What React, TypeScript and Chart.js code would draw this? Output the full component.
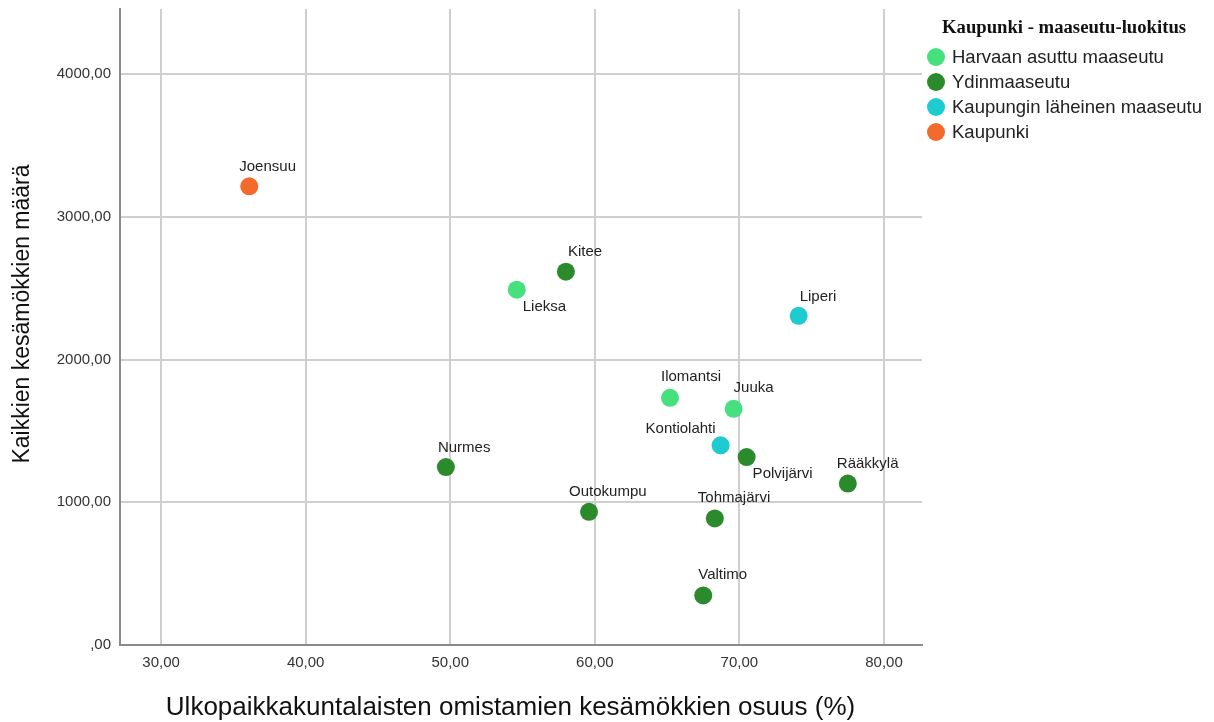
import React, { useEffect, useRef } from "react";
import { Chart, registerables } from "chart.js";

Chart.register(...registerables);

// ---- Data ----
const municipalities = [
  "Joensuu", "Kitee", "Lieksa", "Liperi", "Ilomantsi", "Juuka", "Kontiolahti",
  "Polvijärvi", "Rääkkylä", "Nurmes", "Outokumpu", "Tohmajärvi", "Valtimo",
];
const shareOutsideOwners = [36.1, 58.0, 54.6, 74.1, 65.2, 69.6, 68.7, 70.5, 77.5, 49.7, 59.6, 68.3, 67.5];
const totalCottages = [3214, 2616, 2490, 2307, 1732, 1655, 1399, 1317, 1131, 1247, 933, 887, 347];
const municipalityClass = [
  "Kaupunki", "Ydinmaaseutu", "Harvaan asuttu maaseutu", "Kaupungin läheinen maaseutu",
  "Harvaan asuttu maaseutu", "Harvaan asuttu maaseutu", "Kaupungin läheinen maaseutu",
  "Ydinmaaseutu", "Ydinmaaseutu", "Ydinmaaseutu", "Ydinmaaseutu", "Ydinmaaseutu", "Ydinmaaseutu",
];
const classes = ["Harvaan asuttu maaseutu", "Ydinmaaseutu", "Kaupungin läheinen maaseutu", "Kaupunki"];
const xTickValues = [30, 40, 50, 60, 70, 80];
const yTickValues = [0, 1000, 2000, 3000, 4000];

const legendTitle = "Kaupunki - maaseutu-luokitus";
const xTitle = "Ulkopaikkakuntalaisten omistamien kesämökkien osuus (%)";
const yTitle = "Kaikkien kesämökkien määrä";

// ---- Styles ----
const classColors = ["#47e07e", "#2b8a2b", "#1dcbd0", "#f36b2c"];
const SANS = "'Liberation Sans', Arial, sans-serif";
const SERIF = "'Liberation Serif', 'Times New Roman', serif";
// label offsets relative to point: [dx, dy, align]
const labelOffsets: Record<string, [number, number, CanvasTextAlign]> = {
  Joensuu: [-10, -20, "left"],
  Kitee: [2, -20, "left"],
  Lieksa: [6, 17, "left"],
  Liperi: [1, -19, "left"],
  Ilomantsi: [-9, -21, "left"],
  Juuka: [0, -21, "left"],
  Kontiolahti: [-5, -17, "right"],
  "Polvijärvi": [6, 17, "left"],
  "Rääkkylä": [-11, -20, "left"],
  Nurmes: [-8, -19, "left"],
  Outokumpu: [-20, -20, "left"],
  "Tohmajärvi": [-17, -21, "left"],
  Valtimo: [-5, -21, "left"],
};

const fmt = (v: number) => {
  const s = v.toFixed(2).replace(".", ",");
  return s.startsWith("0,") ? s.slice(1) : s;
};

const pointLabelPlugin = {
  id: "pointLabels",
  afterDatasetsDraw(chart: any) {
    const ctx = chart.ctx;
    ctx.save();
    ctx.font = `15px ${SANS}`;
    ctx.fillStyle = "#222";
    ctx.textBaseline = "middle";
    chart.data.datasets.forEach((ds: any, di: number) => {
      const meta = chart.getDatasetMeta(di);
      meta.data.forEach((el: any, i: number) => {
        const name = ds.names[i];
        const off = labelOffsets[name] || [0, -20, "left"];
        ctx.textAlign = off[2];
        ctx.fillText(name, el.x + off[0], el.y + off[1]);
      });
    });
    ctx.restore();
  },
};

const titlesAndLegendPlugin = {
  id: "titlesAndLegend",
  afterDraw(chart: any) {
    const ctx = chart.ctx;
    ctx.save();
    // axis titles
    ctx.fillStyle = "#111";
    ctx.textAlign = "center";
    ctx.textBaseline = "middle";
    ctx.font = `26px ${SANS}`;
    ctx.fillText(xTitle, 510.5, 708);
    ctx.save();
    ctx.translate(23, 314);
    ctx.rotate(-Math.PI / 2);
    ctx.font = `23px ${SANS}`;
    ctx.fillText(yTitle, 0, 0);
    ctx.restore();
    // legend
    ctx.textAlign = "left";
    ctx.font = `bold 18.7px ${SERIF}`;
    ctx.fillText(legendTitle, 942, 28);
    ctx.font = `18.5px ${SANS}`;
    classes.forEach((c, i) => {
      const cy = 57 + i * 25;
      ctx.beginPath();
      ctx.arc(936, cy, 9, 0, Math.PI * 2);
      ctx.fillStyle = classColors[i];
      ctx.fill();
      ctx.fillStyle = "#222";
      ctx.fillText(c, 952, cy + 1);
    });
    ctx.restore();
  },
};

export default function App() {
  const ref = useRef<HTMLCanvasElement | null>(null);
  useEffect(() => {
    if (!ref.current) return;
    const datasets = classes.map((c, ci) => {
      const idx = municipalities.map((_, i) => i).filter((i) => municipalityClass[i] === c);
      return {
        label: c,
        names: idx.map((i) => municipalities[i]),
        data: idx.map((i) => ({ x: shareOutsideOwners[i], y: totalCottages[i] })),
        backgroundColor: classColors[ci],
        borderColor: classColors[ci],
        borderWidth: 0,
        pointRadius: 9,
        pointHoverRadius: 9,
      };
    });
    const chart = new Chart(ref.current, {
      type: "scatter",
      data: { datasets } as any,
      plugins: [pointLabelPlugin, titlesAndLegendPlugin],
      options: {
        animation: false,
        responsive: false,
        devicePixelRatio: 1,
        layout: { padding: { top: 7, right: 292, left: 0, bottom: 0 } },
        plugins: { legend: { display: false }, tooltip: { enabled: false } },
        scales: {
          x: {
            type: "linear",
            min: 27.16,
            max: 82.63,
            afterBuildTicks: (scale: any) => {
              scale.ticks = xTickValues.map((v) => ({ value: v }));
            },
            afterFit: (scale: any) => {
              scale.height = 77;
              scale.paddingLeft = 0;
              scale.paddingRight = 0;
              scale.paddingTop = 0;
              scale.paddingBottom = 0;
            },
            ticks: {
              callback: (v: any) => fmt(Number(v)),
              font: { family: SANS, size: 15 },
              color: "#333",
              padding: 9,
              maxRotation: 0,
            },
            grid: { color: "#cfcfcf", lineWidth: 2, drawTicks: false },
            border: { color: "#8a8a8a", width: 2 },
            title: { display: false, text: xTitle },
          },
          y: {
            type: "linear",
            min: 0,
            max: 4457,
            afterBuildTicks: (scale: any) => {
              scale.ticks = yTickValues.map((v) => ({ value: v }));
            },
            afterFit: (scale: any) => {
              scale.width = 120;
              scale.paddingLeft = 0;
              scale.paddingRight = 0;
              scale.paddingTop = 0;
              scale.paddingBottom = 0;
            },
            ticks: {
              callback: (v: any) => fmt(Number(v)),
              font: { family: SANS, size: 15 },
              color: "#333",
              padding: 9,
            },
            grid: { color: "#cfcfcf", lineWidth: 2, drawTicks: false },
            border: { color: "#8a8a8a", width: 2 },
            title: { display: false, text: yTitle },
          },
        },
      } as any,
    });
    return () => chart.destroy();
  }, []);
  return (
    <div style={{ position: "absolute", left: 0, top: 0, width: 1214, height: 722, background: "#fff" }}>
      <canvas ref={ref} width={1214} height={722} style={{ width: 1214, height: 722, display: "block" }} />
    </div>
  );
}
